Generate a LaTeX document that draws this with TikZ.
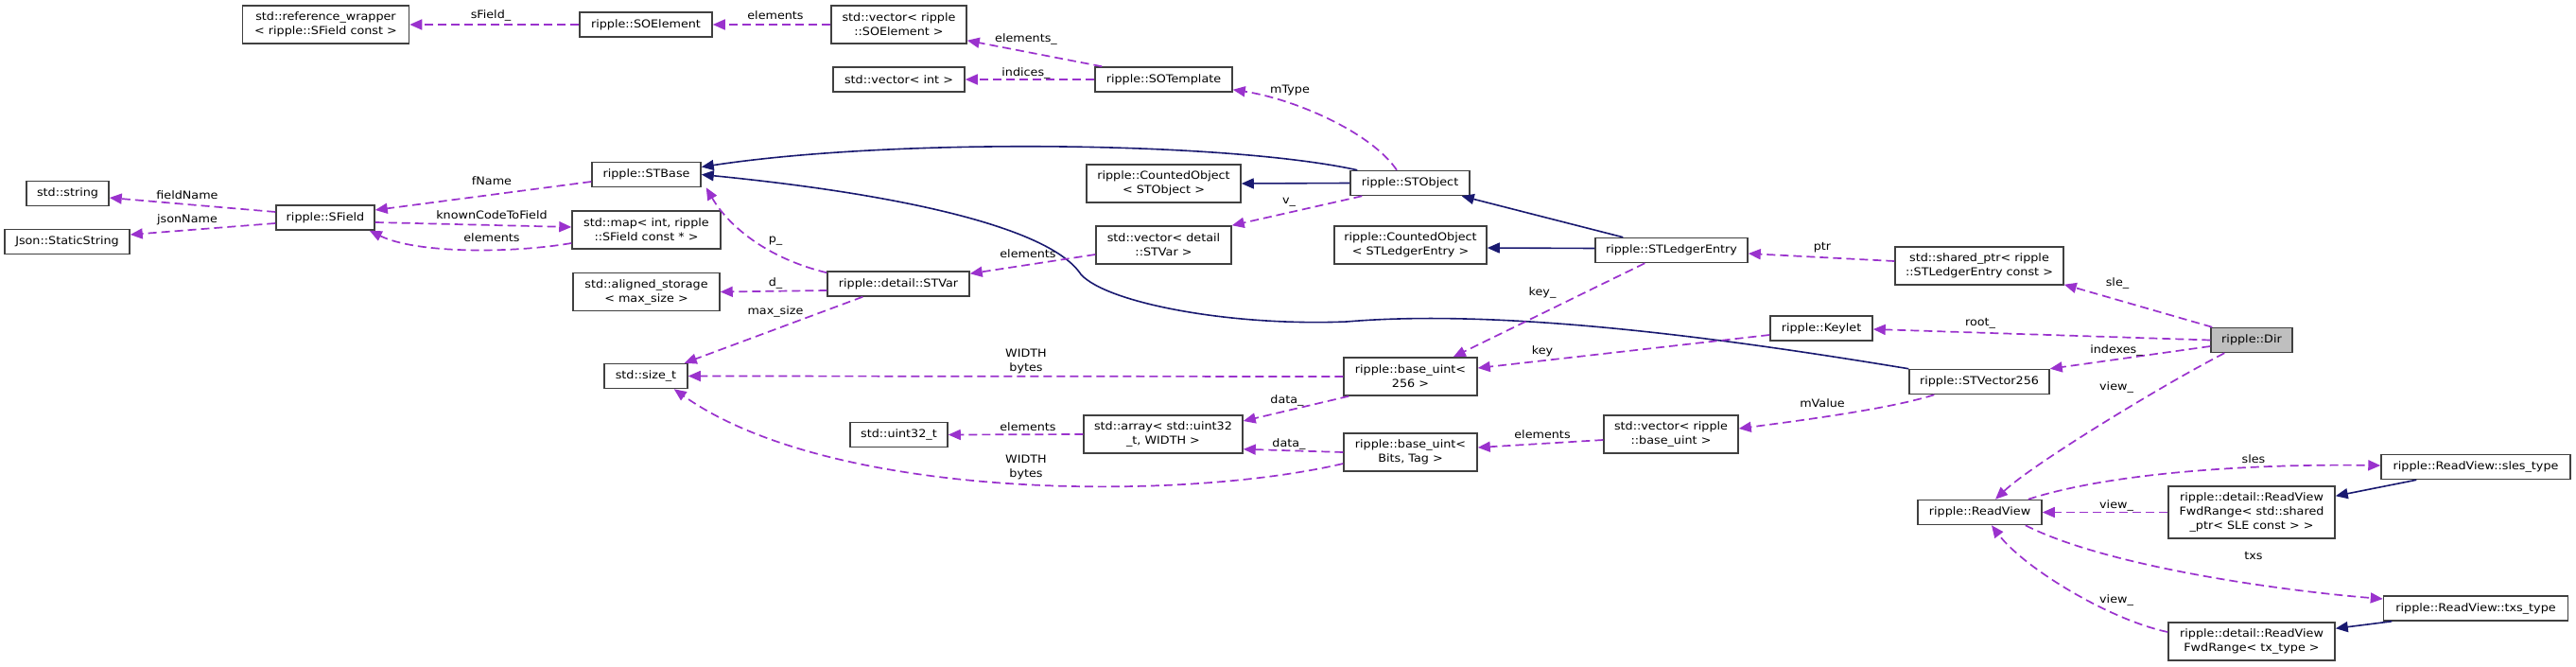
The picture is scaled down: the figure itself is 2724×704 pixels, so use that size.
\documentclass[tikz,border=0pt]{standalone}
\usepackage{fontspec}
\setmainfont[FakeStretch=1.1]{DejaVu Sans}
\usetikzlibrary{arrows.meta,calc}
\definecolor{usecol}{HTML}{9A32CD}
\definecolor{inhcol}{HTML}{191970}
\definecolor{boxcol}{HTML}{404040}
\definecolor{dirfill}{HTML}{BFBFBF}
\begin{document}
\begin{tikzpicture}[x=1pt,y=-1pt,
  cls/.style={draw=boxcol, line width=1.5pt, fill=white, inner sep=0pt, align=center, font=\fontsize{11.6}{15}\selectfont},
  one/.style={minimum height=26pt},
  two/.style={minimum height=40pt},
  three/.style={minimum height=55pt},
  lab/.style={inner sep=0pt, font=\fontsize{11.6}{15}\selectfont, align=center},
  use/.style={draw=usecol, line width=1.7pt, dash pattern=on 9pt off 5pt, -{Triangle[length=13pt,width=11pt]}},
  inh/.style={draw=inhcol, line width=1.6pt, -{Triangle[length=13pt,width=11pt]}},
]
\useasboundingbox (0,0) rectangle (2724,704);
% ---------- nodes ----------
\node[cls,two, minimum width=176pt] (rw) at (344.5,26) {std::reference\_wrapper\\< ripple::SField const >};
\node[cls,one, minimum width=140pt] (soel) at (683,26) {ripple::SOElement};
\node[cls,two, minimum width=143pt] (vsoel) at (950.5,26) {std::vector< ripple\\::SOElement >};
\node[cls,one, minimum width=139pt] (vint) at (950.5,84) {std::vector< int >};
\node[cls,one, minimum width=145pt] (sotpl) at (1230.5,84) {ripple::SOTemplate};
\node[cls,one, minimum width=87pt] (str) at (71.5,204.5) {std::string};
\node[cls,one, minimum width=132pt] (json) at (71,255.5) {Json::StaticString};
\node[cls,one, minimum width=104pt] (sfield) at (344,230) {ripple::SField};
\node[cls,one, minimum width=115pt] (stbase) at (683.5,184.5) {ripple::STBase};
\node[cls,two, minimum width=157pt] (map) at (683.5,243) {std::map< int, ripple\\::SField const * >};
\node[cls,two, minimum width=155pt] (align) at (683.5,308.5) {std::aligned\_storage\\< max\_size >};
\node[cls,one, minimum width=88pt] (sizet) at (683,397.5) {std::size\_t};
\node[cls,one, minimum width=150pt] (stvar) at (950,300) {ripple::detail::STVar};
\node[cls,two, minimum width=143pt] (vstvar) at (1230.5,259) {std::vector< detail\\::STVar >};
\node[cls,two, minimum width=163pt] (cobj) at (1230.5,194) {ripple::CountedObject\\< STObject >};
\node[cls,one, minimum width=126pt] (stobj) at (1491,193.5) {ripple::STObject};
\node[cls,two, minimum width=161pt] (cled) at (1491.5,259) {ripple::CountedObject\\< STLedgerEntry >};
\node[cls,one, minimum width=161pt] (stled) at (1767.5,264.5) {ripple::STLedgerEntry};
\node[cls,two, minimum width=141pt] (bu256) at (1491.5,398) {ripple::base\_uint<\\256 >};
\node[cls,one, minimum width=103pt] (u32) at (950.5,459.5) {std::uint32\_t};
\node[cls,two, minimum width=168pt] (arr) at (1230,459) {std::array< std::uint32\\\_t, WIDTH >};
\node[cls,two, minimum width=141pt] (bubits) at (1491.5,478) {ripple::base\_uint<\\Bits, Tag >};
\node[cls,two, minimum width=142pt] (vbu) at (1767,459) {std::vector< ripple\\::base\_uint >};
\node[cls,two, minimum width=178pt] (shptr) at (2093,281) {std::shared\_ptr< ripple\\::STLedgerEntry const >};
\node[cls,one, minimum width=108pt] (keylet) at (1926,347) {ripple::Keylet};
\node[cls,one, minimum width=86pt, fill=dirfill] (dir) at (2381,359.5) {ripple::Dir};
\node[cls,one, minimum width=148pt] (stv256) at (2093,403.5) {ripple::STVector256};
\node[cls,one, minimum width=131pt] (rv) at (2093.5,541.5) {ripple::ReadView};
\node[cls,one, minimum width=200pt] (slestype) at (2618,493.5) {ripple::ReadView::sles\_type};
\node[cls,three, minimum width=176pt] (fwdsle) at (2381,541.5) {ripple::detail::ReadView\\FwdRange< std::shared\\\_ptr< SLE const > >};
\node[cls,one, minimum width=195pt] (txstype) at (2618,643) {ripple::ReadView::txs\_type};
\node[cls,two, minimum width=176pt] (fwdtx) at (2381,678) {ripple::detail::ReadView\\FwdRange< tx\_type >};
% ---------- inheritance edges ----------
\draw[inh] ($(stobj.north west)+(8,0)$) .. controls (1300,150) and (950,145) .. ($(stbase.east)+(0,-8)$);
\draw[inh] (stv256.north west) .. controls (1850,362) and (1600,325) .. (1424,340)
   .. controls (1300,345) and (1170,320) .. (1143,290)
   .. controls (1110,240) and (950,205) .. (stbase.east);
\draw[inh] (stobj.west) -- (cobj.east);
\draw[inh] ($(stled.north west)+(30,0)$) -- ($(stobj.south east)+(-9,0)$);
\draw[inh] ($(stled.west)+(0,-2)$) -- ($(cled.east)+(0,3)$);
\draw[inh] ($(slestype.south west)+(38,0)$) -- ($(fwdsle.north east)+(0,11)$);
\draw[inh] ($(txstype.south west)+(9.5,0)$) -- ($(fwdtx.north east)+(0,7)$);
% ---------- usage edges ----------
\draw[use] (soel.west) -- (rw.east);
\draw[use] (vsoel.west) -- (soel.east);
\draw[use] ($(sotpl.north west)+(8,0)$) -- ($(vsoel.south east)+(0,-4)$);
\draw[use] (sotpl.west) -- (vint.east);
\draw[use] ($(stobj.north)+(-14,0)$) .. controls (1450,140) and (1370,105) .. ($(sotpl.south east)+(0,-3)$);
\draw[use] ($(stobj.south west)+(13,0)$) -- (vstvar.north east);
\draw[use] ($(vstvar.west)+(0,10)$) -- ($(stvar.north east)+(0,3)$);
\draw[use] ($(stvar.north west)+(0,2)$) .. controls (800,270) and (765,230) .. ($(stbase.south east)+(5,0)$);
\draw[use] ($(stvar.west)+(0,7)$) -- (align.east);
\draw[use] ($(stvar.south west)+(38,0)$) -- ($(sizet.north east)+(-4,0)$);
\draw[use] (bu256.west) -- (sizet.east);
\draw[use] ($(bubits.west)+(0,12)$) .. controls (1250,530) and (880,530) .. ($(sizet.south east)+(-15,0)$);
\draw[use] ($(sfield.west)+(0,-6)$) -- ($(str.east)+(0,4.5)$);
\draw[use] ($(sfield.west)+(0,6)$) -- ($(json.east)+(0,-7.5)$);
\draw[use] ($(stbase.west)+(0,7.5)$) -- ($(sfield.east)+(0,-8)$);
\draw[use] ($(sfield.east)+(0,5)$) -- ($(map.west)+(0,-3)$);
\draw[use] ($(map.west)+(0,14)$) .. controls (540,268) and (440,268) .. ($(sfield.south east)+(-6,0)$);
\draw[use] (arr.west) -- (u32.east);
\draw[use] ($(bu256.south west)+(6,0)$) -- ($(arr.east)+(0,-14)$);
\draw[use] (bubits.west) -- ($(arr.south east)+(0,-5)$);
\draw[use] ($(vbu.west)+(0,6)$) -- ($(bubits.east)+(0,-5)$);
\draw[use] ($(stled.south west)+(53,0)$) -- ($(bu256.north east)+(-26,0)$);
\draw[use] ($(keylet.west)+(0,7)$) -- ($(bu256.east)+(0,-9)$);
\draw[use] ($(shptr.west)+(0,-5)$) -- ($(stled.east)+(0,3.5)$);
\draw[use] ($(dir.north west)+(2,0)$) -- ($(shptr.south east)+(0,-1)$);
\draw[use] (dir.west) -- ($(keylet.east)+(0,1)$);
\draw[use] ($(dir.west)+(0,6.5)$) -- (stv256.north east);
\draw[use] ($(dir.south west)+(15,0)$) .. controls (2290,405) and (2150,490) .. ($(rv.north)+(16.5,0)$);
\draw[use] ($(stv256.south west)+(27,0)$) .. controls (2000,432) and (1900,445) .. ($(vbu.east)+(0,-6)$);
\draw[use] ($(rv.north east)+(-15,0)$) .. controls (2230,500) and (2380,490) .. ($(slestype.west)+(0,-1.5)$);
\draw[use] (fwdsle.west) -- (rv.east);
\draw[use] ($(rv.south east)+(-18,0)$) .. controls (2230,600) and (2420,625) .. ($(txstype.west)+(0,-10)$);
\draw[use] ($(fwdtx.west)+(0,-10)$) .. controls (2230,655) and (2140,600) .. ($(rv.south)+(12.5,0)$);
% ---------- labels ----------
\node[lab] (l1) at (519,16) {sField\_};
\node[lab] (l2) at (820,16) {elements};
\node[lab] (l3) at (1085,41) {elements\_};
\node[lab] (l4) at (1085,77) {indices\_};
\node[lab] (l5) at (1364,95) {mType};
\node[lab] (l6) at (1363,214) {v\_};
\node[lab] (l7) at (1087,268) {elements};
\node[lab] (l8) at (820,255) {p\_};
\node[lab] (l9) at (820,299) {d\_};
\node[lab] (l10) at (820,329) {max\_size};
\node[lab] (l11) at (1085,382) {WIDTH\\bytes};
\node[lab] (l12) at (1085,494) {WIDTH\\bytes};
\node[lab] (l13) at (198,206) {fieldName};
\node[lab] (l14) at (198,232) {jsonName};
\node[lab] (l15) at (520,191) {fName};
\node[lab] (l16) at (520,227) {knownCodeToField};
\node[lab] (l17) at (520,251) {elements};
\node[lab] (l18) at (1087,451) {elements};
\node[lab] (l19) at (1361,423) {data\_};
\node[lab] (l20) at (1363,469) {data\_};
\node[lab] (l21) at (1631,459) {elements};
\node[lab] (l22) at (1631,309) {key\_};
\node[lab] (l23) at (1631,371) {key};
\node[lab] (l24) at (1927,262) {ptr};
\node[lab] (l25) at (2239,299) {sle\_};
\node[lab] (l26) at (2094,342) {root\_};
\node[lab] (l27) at (2238,370) {indexes\_};
\node[lab] (l28) at (2238,409) {view\_};
\node[lab] (l29) at (1927,426) {mValue};
\node[lab] (l30) at (2383,485) {sles};
\node[lab] (l31) at (2238,534) {view\_};
\node[lab] (l32) at (2383,588) {txs};
\node[lab] (l33) at (2238,634) {view\_};
\end{tikzpicture}
\end{document}
